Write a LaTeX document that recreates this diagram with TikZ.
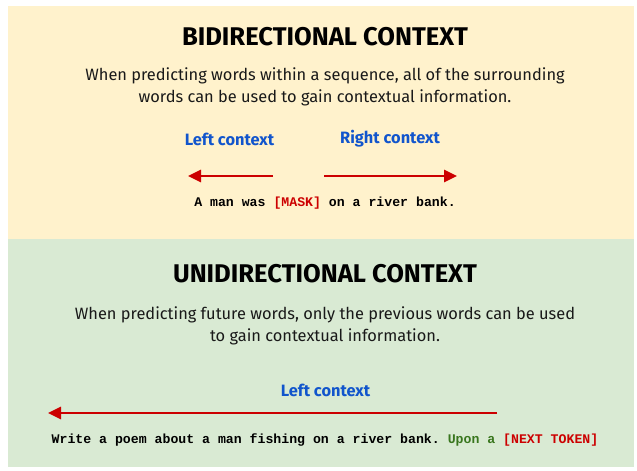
\documentclass[tikz,border=0pt]{standalone}
\usepackage{fontspec}
\setmainfont{Fira Sans}
\setmonofont{Liberation Mono}
\usetikzlibrary{arrows.meta}
\definecolor{panelyellow}{HTML}{FFF2CC}
\definecolor{panelgreen}{HTML}{D9EAD3}
\definecolor{ctxblue}{HTML}{1155CC}
\definecolor{arrowred}{HTML}{CC0000}
\definecolor{tokengreen}{HTML}{38761D}
\tikzset{
  heading/.style={font=\fontsize{25.6}{30}\selectfont\bfseries, text=black, inner sep=0pt},
  body/.style={font=\fontsize{16.4}{21.5}\selectfont, align=center, text=black!90, inner sep=0pt},
  ctxlabel/.style={font=\fontsize{16.4}{19}\selectfont\bfseries, text=ctxblue, inner sep=0pt},
  sentence/.style={font=\fontsize{13.2}{16}\selectfont\ttfamily\bfseries, text=black, inner sep=0pt},
  ctxarrow/.style={draw=arrowred, line width=2.6pt, -{Triangle[length=13pt,width=12pt]}}
}
\begin{document}
\begin{tikzpicture}[x=1pt,y=-1pt]
  \useasboundingbox (0,0) rectangle (637,471);
  \fill[white] (0,0) rectangle (637,471);
  % the two panels
  \fill[panelyellow] (8,6) rectangle (634,239);
  \fill[panelgreen] (8,239) rectangle (634,467);

  % bidirectional panel
  \node[heading] (bititle) at (325,37) {BIDIRECTIONAL CONTEXT};
  \node[body] (bibody) at (325,87) {When predicting words within a sequence, all of the surrounding\\words can be used to gain contextual information.};
  \node[ctxlabel] (bileft) at (229.5,139) {Left context};
  \node[ctxlabel] (biright) at (390,139) {Right context};
  \coordinate (bl0) at (273,176);
  \coordinate (bl1) at (188,176);
  \coordinate (br0) at (324,176);
  \coordinate (br1) at (457,176);
  \draw[ctxarrow] (bl0) -- (bl1);
  \draw[ctxarrow] (br0) -- (br1);
  \node[sentence] (bisent) at (325,203) {A man was \textcolor{arrowred}{[MASK]} on a river bank.};

  % unidirectional panel
  \node[heading] (unititle) at (325,274) {UNIDIRECTIONAL CONTEXT};
  \node[body] (unibody) at (325,326) {When predicting future words, only the previous words can be used\\to gain contextual information.};
  \node[ctxlabel] (unileft) at (325.5,390) {Left context};
  \coordinate (ul0) at (497,413);
  \coordinate (ul1) at (48,413);
  \draw[ctxarrow] (ul0) -- (ul1);
  \node[sentence] (unisent) at (325,440) {Write a poem about a man fishing on a river bank. \textcolor{tokengreen}{Upon a} \textcolor{arrowred}{[NEXT TOKEN]}};
\end{tikzpicture}
\end{document}
